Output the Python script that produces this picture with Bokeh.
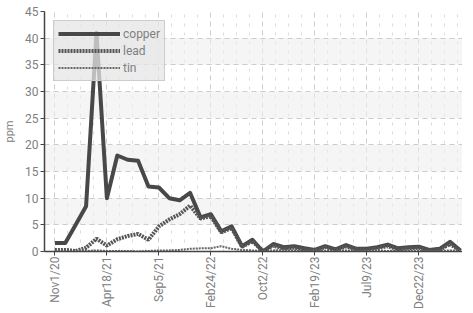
import math
from bokeh.plotting import figure
from bokeh.models import FixedTicker, Legend, LegendItem, ColumnDataSource
from bokeh.embed import file_html
from bokeh.resources import INLINE

tick_labels = ["Nov1/20", "Apr18/21", "Sep5/21", "Feb24/22", "Oct2/22", "Feb19/23", "Jul9/23", "Dec22/23"]
tick_step = 5

copper = [1.6, 1.6, 5.0, 8.5, 41.0, 10.0, 18.0, 17.2, 17.0, 12.2, 12.0, 10.0, 9.6, 11.0, 6.4, 7.0, 3.8, 4.7, 1.0, 2.2,
          0.0, 1.4, 0.8, 1.0, 0.6, 0.3, 1.0, 0.4, 1.2, 0.5, 0.5, 0.8, 1.3, 0.6, 0.8, 0.9, 0.3, 0.5, 1.8, 0.2]
lead = [0.3, 0.3, 0.1, 0.7, 2.4, 1.1, 2.3, 2.9, 3.3, 2.2, 4.7, 6.0, 7.0, 8.6, 6.2, 6.6, 3.6, 4.4, 0.9, 1.9,
        0.1, 1.1, 0.6, 0.7, 0.4, 0.2, 0.8, 0.3, 0.9, 0.4, 0.3, 0.6, 1.0, 0.4, 0.6, 0.7, 0.2, 0.3, 1.4, 0.1]
tin = [0.1, 0.1, 0.0, 0.1, 0.2, 0.1, 0.1, 0.1, 0.0, 0.1, 0.2, 0.2, 0.3, 0.5, 0.6, 0.6, 1.0, 0.5, 0.3, 0.2,
       0.1, 0.2, 0.3, 0.2, 0.1, 0.2, 0.1, 0.1, 0.2, 0.1, 0.1, 0.2, 0.1, 0.1, 0.2, 0.1, 0.1, 0.1, 0.2, 0.1]

idx = list(range(len(copper)))
src = ColumnDataSource(dict(x=idx, copper=copper, lead=lead, tin=tin))

FONT = "Roboto"

p = figure(width=462, height=311, output_backend="svg", toolbar_location=None,
           x_range=(-1.0, 39.2), y_range=(0, 45),
           min_border_left=39, min_border_right=0, min_border_top=11, min_border_bottom=53,
           background_fill_color="white", border_fill_color="white")
p.outline_line_color = None

major = [i * tick_step for i in range(len(tick_labels))]
minor = [m + k * tick_step / 4 for m in major + [40] for k in range(1, 4) if m + k * tick_step / 4 <= 39.2]
p.xaxis.ticker = FixedTicker(ticks=major, minor_ticks=minor)
p.xaxis.major_label_overrides = {m: lab for m, lab in zip(major, tick_labels)}
p.xaxis.major_label_orientation = math.pi / 2
p.yaxis.ticker = FixedTicker(ticks=list(range(0, 46, 5)))

for ax in (p.xaxis[0], p.yaxis[0]):
    ax.axis_line_color = "#444444"
    ax.axis_line_width = 1.5
    ax.major_tick_line_color = "#444444"
    ax.major_tick_in = 0
    ax.major_tick_out = 4
    ax.minor_tick_line_color = None
    ax.major_label_text_color = "#808080"
    ax.major_label_text_font = FONT
    ax.major_label_text_font_size = "12px"
    ax.major_label_standoff = 2
p.xaxis.major_label_standoff = 1

p.yaxis.axis_label = "ppm"
p.yaxis.axis_label_text_font = FONT
p.yaxis.axis_label_text_font_size = "11px"
p.yaxis.axis_label_text_font_style = "normal"
p.yaxis.axis_label_text_color = "#808080"
p.yaxis.axis_label_standoff = 6

p.ygrid.grid_line_color = "#cccccc"
p.ygrid.grid_line_dash = "5 4"
p.ygrid.band_fill_color = "#eeeeee"
p.ygrid.band_fill_alpha = 0.6
p.xgrid.grid_line_color = "#cccccc"
p.xgrid.grid_line_dash = "5 4"
p.xgrid.minor_grid_line_color = "#dddddd"
p.xgrid.minor_grid_line_dash = "3 6"

r_cu = p.line("x", "copper", source=src, line_color="#484848", line_width=4, line_join="round")
r_pb = p.line("x", "lead", source=src, line_color="#555555", line_width=4, line_dash="2 1")
r_sn = p.line("x", "tin", source=src, line_color="#666666", line_width=2, line_dash="2 1")

legend = Legend(items=[LegendItem(label="copper", renderers=[r_cu]),
                       LegendItem(label="lead", renderers=[r_pb]),
                       LegendItem(label="tin", renderers=[r_sn])],
                location="top_left", margin=9, padding=4, spacing=0,
                glyph_width=62, glyph_height=17, label_standoff=3,
                label_text_font=FONT, label_text_font_size="12px", label_text_color="#808080",
                label_height=17,
                background_fill_color="#e6e6e6", background_fill_alpha=0.75,
                border_line_color="#cccccc", border_line_alpha=1.0)
p.add_layout(legend)

open("out.html", "w").write(file_html(p, INLINE))
